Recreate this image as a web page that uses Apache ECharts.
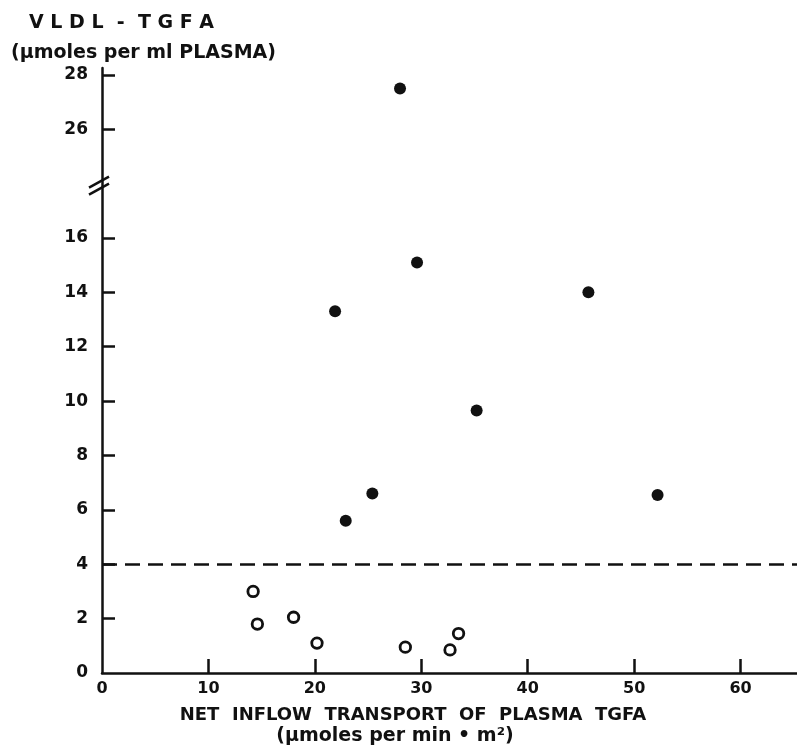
<!DOCTYPE html>
<html lang="en">
<head>
    <meta charset="UTF-8">
    <title>VLDL-TGFA</title>
    <script src="https://cdn.jsdelivr.net/npm/echarts@6/dist/echarts.min.js"></script>
</head>
<style>
html,body{margin: 0;padding: 0;background: #fff}
#chartBox{width: 797px;height: 755px}
</style>
<body>
    <div id="chartBox"></div>
</body>
<script>
// 数据
const filledX = [28.0, 21.9, 29.6, 45.7, 35.2, 22.9, 25.4, 52.2];
const filledY = [27.5, 13.3, 15.1, 14.0, 9.65, 5.6, 6.6, 6.55];
const openX = [14.2, 14.6, 18.0, 20.2, 28.5, 32.7, 33.5];
const openY = [3.0, 1.8, 2.05, 1.1, 0.95, 0.85, 1.45];
const xLabels = [0, 10, 20, 30, 40, 50, 60];
const yLabels = [0, 2, 4, 6, 8, 10, 12, 14, 16, 26, 28];
const cutoff = 4;
// 纵轴断开: 18 以上的值整体下移 6
const breakAt = 18;
const breakShift = 6;

const FONT = '"DejaVu Sans", sans-serif';

function toAxis(v) { return v > breakAt ? v - breakShift : v; }
function fromAxis(v) { return v > breakAt ? v + breakShift : v; }

function pairs(xs, ys) {
    return xs.map((x, i) => [x, toAxis(ys[i])]);
}

function textStyle(size) {
    return {fontFamily: FONT, fontSize: size, fontWeight: 'bold', color: '#111'};
}

function generateOption() {
    let yPos = yLabels.map(toAxis);
    return {
        backgroundColor: '#fff',
        animation: false,
        title: [
            {text: 'V L D L  -  T G F A', left: 24, top: 9, textStyle: textStyle(19)},
            {text: '(\u03bcmoles per ml PLASMA)', left: 6, top: 39, textStyle: textStyle(19)},
            {text: 'NET  INFLOW  TRANSPORT  OF  PLASMA  TGFA', left: 408, top: 701, textAlign: 'center',
             textStyle: textStyle(18)},
            {text: '(\u03bcmoles per min \u2022 m\u00b2)', left: 390, top: 722, textAlign: 'center',
             textStyle: textStyle(19)}
        ],
        grid: {left: 102, right: 0, top: 68, bottom: 82, show: false},
        xAxis: {
            type: 'value', min: 0, max: 65.3, interval: 10,
            splitLine: {show: false},
            axisLine: {lineStyle: {color: '#111', width: 2.5}},
            axisTick: {inside: true, length: 14, lineStyle: {color: '#111', width: 2.5},
                       customValues: xLabels.filter(v => v > 0)},
            axisLabel: {customValues: xLabels, margin: 8, color: '#111',
                        fontFamily: FONT, fontSize: 16, fontWeight: 'bold'}
        },
        yAxis: {
            type: 'value', min: 0, max: 22.25,
            splitLine: {show: false},
            axisLine: {lineStyle: {color: '#111', width: 2.5}},
            axisTick: {inside: true, length: 13, lineStyle: {color: '#111', width: 2.5},
                       customValues: yPos.filter(v => v > 0)},
            axisLabel: {customValues: yPos, margin: 14, color: '#111',
                        fontFamily: FONT, fontSize: 17, fontWeight: 'bold',
                        formatter: v => String(fromAxis(v))}
        },
        series: [
            {
                type: 'scatter', name: 'high',
                symbolSize: 12,
                itemStyle: {color: '#111', opacity: 1},
                data: pairs(filledX, filledY),
                markLine: {
                    silent: true, symbol: 'none', label: {show: false},
                    lineStyle: {color: '#111', type: [15, 8], width: 2.5},
                    data: [[{coord: [0, cutoff]}, {coord: [65.3, cutoff]}]]
                }
            },
            {
                type: 'scatter', name: 'low',
                symbolSize: 10.5,
                itemStyle: {color: '#fff', borderColor: '#111', borderWidth: 2.8, opacity: 1},
                data: pairs(openX, openY)
            }
        ]
    };
}

let chartObj = echarts.init(document.getElementById('chartBox'));
chartObj.setOption(generateOption());

// 断轴标记 "//"
let p = chartObj.convertToPixel({gridIndex: 0}, [0, breakAt]);
let lineStyle = {stroke: '#111', lineWidth: 2.5};
chartObj.setOption({
    graphic: [
        {type: 'line', shape: {x1: p[0] - 13, y1: p[1] + 4, x2: p[0] + 7, y2: p[1] - 7}, style: lineStyle},
        {type: 'line', shape: {x1: p[0] - 13, y1: p[1] + 11, x2: p[0] + 7, y2: p[1]}, style: lineStyle}
    ]
});
</script>
</html>
